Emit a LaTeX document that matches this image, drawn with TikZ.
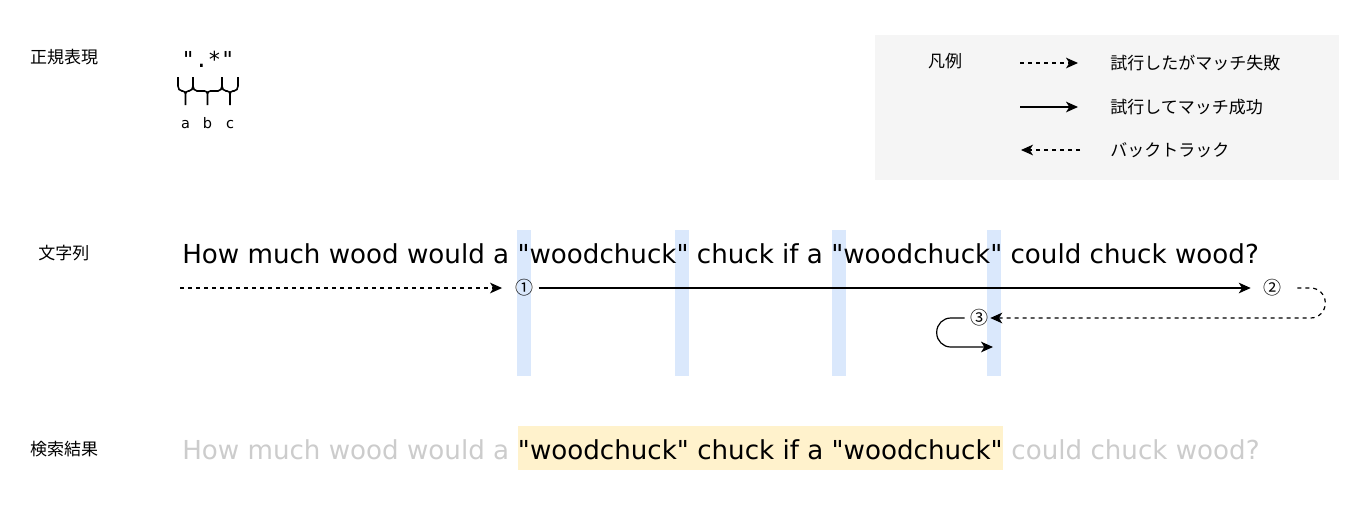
\documentclass[tikz,border=0pt]{standalone}
\usepackage{fontspec}
\setmainfont{DejaVu Sans}[Ligatures=TeXOff]
\setmonofont{DejaVu Sans Mono}
\newfontfamily\jpfont{Noto Sans CJK JP}
\usepackage{xcolor}
\definecolor{slotblue}{HTML}{DAE8FC}
\definecolor{hiliteyellow}{HTML}{FFF2CC}
\definecolor{legendgray}{HTML}{F5F5F5}
\definecolor{dimgray}{HTML}{CCCCCC}
\usetikzlibrary{arrows.meta,positioning,calc}
\tikzset{
  >={Stealth[length=9pt,width=8pt,inset=2.5pt]},
  rowname/.style={font=\jpfont\fontsize{12.75}{14}\selectfont,inner sep=0pt},
  legendtext/.style={rowname,anchor=west},
  sentence/.style={font=\fontsize{19.6}{22}\selectfont,inner sep=0pt,anchor=base west},
  dimtext/.style={sentence,text=dimgray},
  hilite/.style={sentence,fill=hiliteyellow,text height=24.75pt,text depth=8.25pt},
  slot/.style={fill=slotblue,inner sep=0pt,minimum width=10.5pt,minimum height=109.5pt},
  stepno/.style={font=\jpfont\fontsize{13.5}{15}\selectfont,inner sep=0pt},
  legendbox/.style={fill=legendgray,inner sep=0pt},
  regex/.style={font=\ttfamily\fontsize{16.5}{18}\selectfont,inner sep=0pt,anchor=base},
  abc/.style={font=\fontsize{10.9}{12}\selectfont,inner sep=0pt,anchor=base},
  bracepath/.style={line width=1.2pt},
  tryfail/.style={->,line width=0.9pt,dash pattern=on 3pt off 3pt},
  trymatch/.style={->,line width=0.9pt},
  backtrack/.style={tryfail}
}
% curly brace under the regex, tip pointing down
\newcommand{\regbrace}[3]{%
  \pgfmathsetmacro\bxa{#1+4}%
  \pgfmathsetmacro\bxb{(#1+#2)/2-3}%
  \pgfmathsetmacro\bxm{(#1+#2)/2}%
  \pgfmathsetmacro\bxc{(#1+#2)/2+3}%
  \pgfmathsetmacro\bxd{#2-4}%
  \draw[bracepath] (#1,77) -- (#1,86) to[out=-90,in=180] (\bxa,91)
    -- (\bxb,91) to[out=0,in=90] (\bxm,94) -- (\bxm,105) coordinate (#3)
    (\bxm,94) to[out=90,in=180] (\bxc,91)
    -- (\bxd,91) to[out=0,in=-90] (#2,86) -- (#2,77);}

\begin{document}
\begin{tikzpicture}[x=0.75pt,y=-0.75pt]
  \useasboundingbox (0,0) rectangle (1364,512);

  % Row names
  \node[rowname] (nregex) at (64,57) {正規表現};
  \node[rowname] (nstr) at (64,253) {文字列};
  \node[rowname] (nres) at (64,449) {検索結果};

  % Regex and its parts
  \node[regex] (re) at (208,67) {".*"};
  \regbrace{178}{193}{tipa}
  \regbrace{193}{222}{tipb}
  \regbrace{222}{238}{tipc}
  \node[abc] (la) at (185.5,128) {a};
  \node[abc] (lb) at (207.5,128) {b};
  \node[abc] (lc) at (230,128) {c};

  % Legend
  \node[legendbox,minimum width=348pt,minimum height=108.75pt] (legend) at (1107,107.5) {};
  \node[rowname] (lgtitle) at (945,61) {凡例};
  \coordinate (lf1) at (1020,63);
  \coordinate (lf2) at (1078,63);
  \coordinate (lm1) at (1020,107);
  \coordinate (lm2) at (1078,107);
  \coordinate (lb1) at (1080,150);
  \coordinate (lb2) at (1021,150);
  \draw[tryfail] (lf1) -- (lf2);
  \draw[trymatch] (lm1) -- (lm2);
  \draw[backtrack] (lb1) -- (lb2);
  \node[legendtext,right=24pt of lf2] (tf) {試行したがマッチ失敗};
  \node[legendtext,right=24pt of lm2] (tm) {試行してマッチ成功};
  \node[legendtext,right=22.5pt of lb1] (tb) {バックトラック};

  % Positions of the quotes
  \node[slot] (col1) at (523.5,303) {};
  \node[slot] (col2) at (682,303) {};
  \node[slot] (col3) at (839,303) {};
  \node[slot] (col4) at (994,303) {};

  % Target string
  \node[sentence] (str) at (182,263) {How much wood would a "woodchuck" chuck if a "woodchuck" could chuck wood?};

  % Matching steps
  \node[stepno] (m1) at (524,288) {①};
  \node[stepno] (m2) at (1272,288) {②};
  \node[stepno] (m3) at (979,318) {③};
  \coordinate (s0) at (180,288);
  \coordinate (loopend) at (993,347);
  \draw[tryfail,shorten >=9.5pt] (s0) -- (m1);
  \draw[trymatch,shorten <=4pt,shorten >=9pt] (m1) -- (m2);
  \draw[backtrack,rounded corners=11pt] ($(m2.east)+(16,0)$) -- ++(28,0) |- ($(m3.east)+(2,0)$);
  \draw[trymatch,rounded corners=10.5pt] ($(m3.west)+(-5,0)$) -| ++(-28,29) -- (loopend);

  % Search result
  \node[dimtext] (res1) at (182,459) {How much wood would a};
  \node[hilite,base right=6.2pt of res1] (res2) {"woodchuck" chuck if a "woodchuck"};
  \node[dimtext,base right=6.2pt of res2] (res3) {could chuck wood?};
\end{tikzpicture}
\end{document}
